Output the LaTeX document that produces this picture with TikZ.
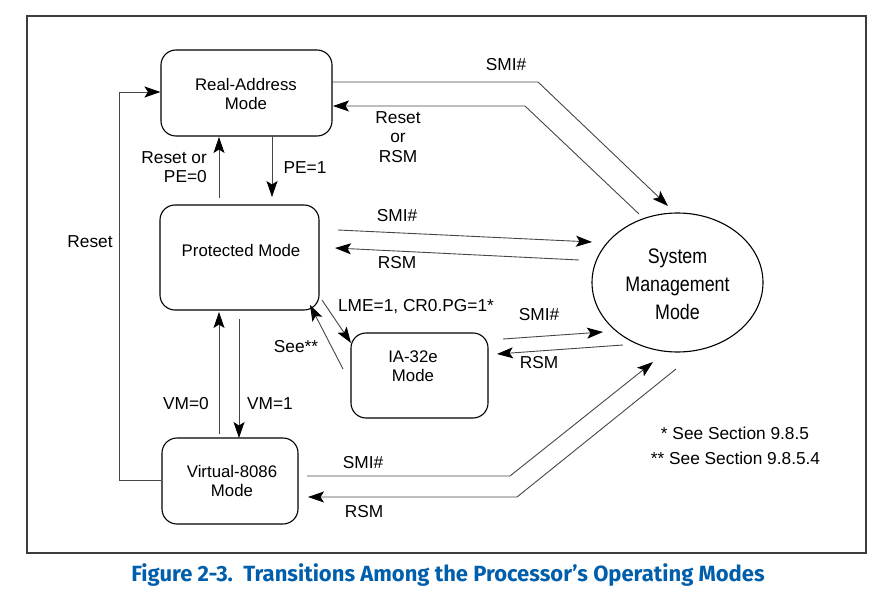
\documentclass[tikz,border=0pt]{standalone}
\usepackage{fontspec}
\setmainfont{Liberation Sans}
\newfontfamily\boxfont{Liberation Sans}
\newfontfamily\smmfont[FakeStretch=0.85]{Liberation Sans}
\newfontfamily\capfont{Fira Sans}
\usetikzlibrary{arrows.meta,shapes.geometric,calc}
\definecolor{capblue}{RGB}{0,94,170}
\definecolor{linegray}{RGB}{70,70,70}
\definecolor{framegray}{RGB}{60,60,60}
\tikzset{
  modebox/.style={draw=black,line width=1.1pt,rounded corners=15pt,inner sep=0pt},
  boxtext/.style={font=\boxfont\fontsize{16.8}{18.5}\selectfont,align=center,inner sep=0pt},
  lbl/.style={font=\fontsize{17.3}{19.5}\selectfont,align=center,inner sep=0pt},
  conn/.style={draw=linegray,line width=0.9pt,-{Stealth[length=16pt,width=11pt,inset=3.5pt,fill=black,color=black]}},
}
\begin{document}
\begin{tikzpicture}[x=1pt,y=-1pt]
\useasboundingbox (0,0) rectangle (894,596);
\draw[framegray,line width=1.3pt] (27,16) rectangle (866,553);

% boxes
\node[modebox,minimum width=171pt,minimum height=86pt] (ra) at (246.5,93) {};
\node[boxtext] (rat) at (246,94) {Real-Address\\Mode};
\node[modebox,minimum width=159pt,minimum height=105pt] (pm) at (239.5,257.5) {};
\node[boxtext] (pmt) at (241,250) {Protected Mode};
\node[modebox,minimum width=136pt,minimum height=86pt] (vm) at (230,481) {};
\node[boxtext] (vmt) at (232,481) {Virtual-8086\\Mode};
\node[modebox,minimum width=137pt,minimum height=85pt] (ia) at (419.5,375.5) {};
\node[boxtext] (iat) at (413,366) {IA-32e\\Mode};
\node[draw=black,line width=1.1pt,ellipse,minimum width=171pt,minimum height=139pt,inner sep=0pt] (smm) at (677.5,282.5) {};
\node[font=\smmfont\fontsize{21}{28}\selectfont,align=center,inner sep=0pt] (smmt) at (677.5,284) {System\\Management\\Mode};

% coordinates for free ends
\coordinate (rstA) at (119,480);
\coordinate (rstB) at (119,92);
\coordinate (pe0s) at (219,198);
\coordinate (pe0e) at (219,137);
\coordinate (pe1s) at (272,136);
\coordinate (pe1e) at (272,197);
\coordinate (vm0s) at (219,434);
\coordinate (vm0e) at (219,312);
\coordinate (vm1s) at (239,319);
\coordinate (vm1e) at (239,438);
\coordinate (lmes) at (322,300);
\coordinate (lmee) at (351,343);
\coordinate (sees) at (343,369);
\coordinate (seee) at (310,305);
\coordinate (iasmis) at (503,339);
\coordinate (iasmie) at (603,332);
\coordinate (iarsms) at (623,345);
\coordinate (iarsme) at (497,354);
\coordinate (pmsmis) at (338,230);
\coordinate (pmsmie) at (592,242);
\coordinate (pmrsms) at (579,260);
\coordinate (pmrsme) at (335,248);
\coordinate (rasmis) at (332,82);
\coordinate (rasmik) at (538,82);
\coordinate (rasmie) at (668,206);
\coordinate (rarsms) at (639,214);
\coordinate (rarsmk) at (525,106);
\coordinate (rarsme) at (333,106);
\coordinate (vmsmis) at (307,476);
\coordinate (vmsmik) at (510,476);
\coordinate (vmsmie) at (653,362);
\coordinate (vmrsms) at (676,369);
\coordinate (vmrsmk) at (517,497);
\coordinate (vmrsme) at (308,497);

% connectors
\draw[conn] (vm.west |- rstA) -- (rstA) -- (rstB) -- (ra.west |- rstB);
\draw[conn] (pe0s) -- (pe0e);
\draw[conn] (pe1s) -- (pe1e);
\draw[conn] (vm0s) -- (vm0e);
\draw[conn] (vm1s) -- (vm1e);
\draw[conn] (lmes) -- (lmee);
\draw[conn] (sees) -- (seee);
\draw[conn] (iasmis) -- (iasmie);
\draw[conn] (iarsms) -- (iarsme);
\draw[conn] (pmsmis) -- (pmsmie);
\draw[conn] (pmrsms) -- (pmrsme);
\draw[conn] (rasmis) -- (rasmik) -- (rasmie);
\draw[conn] (rarsms) -- (rarsmk) -- (rarsme);
\draw[conn] (vmsmis) -- (vmsmik) -- (vmsmie);
\draw[conn] (vmrsms) -- (vmrsmk) -- (vmrsme);

% labels
\node[lbl] (l1) at (90,242) {Reset};
\node[lbl,align=right,anchor=east] (l2) at (207,167) {Reset or\\PE=0};
\node[lbl] (l3) at (305,168) {PE=1};
\node[lbl] (l4) at (186,404) {VM=0};
\node[lbl] (l5) at (270,404) {VM=1};
\node[lbl] (l6) at (416,307) {LME=1, CR0.PG=1*};
\node[lbl] (l7) at (296,347) {See**};
\node[lbl] (l8) at (539,315) {SMI\#};
\node[lbl] (l9) at (539,363) {RSM};
\node[lbl] (l10) at (397,216) {SMI\#};
\node[lbl] (l11) at (397,263) {RSM};
\node[lbl] (l12) at (506,65) {SMI\#};
\node[lbl] (l13) at (398,137) {Reset\\or\\RSM};
\node[lbl] (l14) at (363,463) {SMI\#};
\node[lbl] (l15) at (364,512) {RSM};
\node[lbl] (f1) at (735,433) {* See Section 9.8.5};
\node[lbl] (f2) at (735.5,458) {** See Section 9.8.5.4};

% caption
\node[font=\capfont\bfseries\fontsize{22}{24}\selectfont,text=capblue,inner sep=0pt] (cap) at (448,575) {Figure 2-3.\ \ Transitions Among the Processor’s Operating Modes};
\end{tikzpicture}
\end{document}
